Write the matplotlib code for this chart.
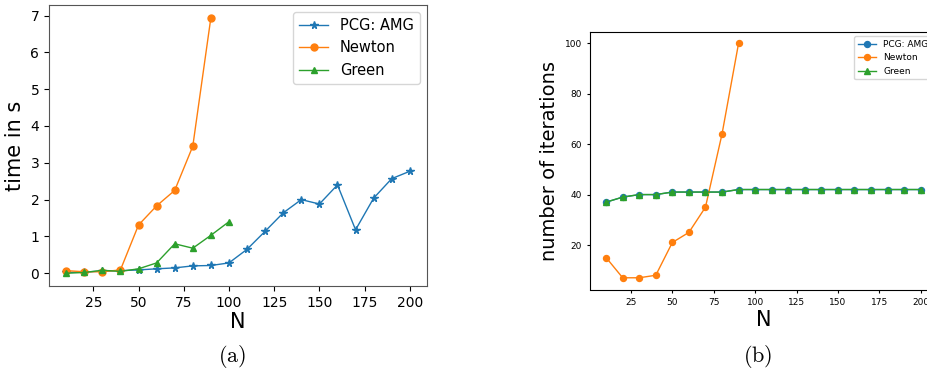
import numpy as np
import matplotlib
matplotlib.use("Agg")
import matplotlib.pyplot as plt

# =============================================================================
# Data
# =============================================================================

n_amg = [10, 20, 30, 40, 50, 60, 70, 80, 90, 100,
         110, 120, 130, 140, 150, 160, 170, 180, 190, 200]
n_newton = [10, 20, 30, 40, 50, 60, 70, 80, 90]
n_green = [10, 20, 30, 40, 50, 60, 70, 80, 90, 100]

# (a) run time in seconds
time_amg = [0.02, 0.03, 0.06, 0.07, 0.09, 0.12, 0.145, 0.20, 0.21, 0.28,
            0.65, 1.14, 1.64, 2.00, 1.88, 2.40, 1.18, 2.04, 2.57, 2.77]
time_newton = [0.07, 0.04, 0.04, 0.09, 1.31, 1.83, 2.25, 3.45, 6.94]
time_green = [0.0, 0.02, 0.08, 0.05, 0.12, 0.28, 0.80, 0.68, 1.03, 1.40]

# (b) number of iterations (Green sits on top of AMG over the full range)
n_iter = n_amg
iter_amg = [37, 39, 40, 40, 41, 41, 41, 41, 42, 42,
            42, 42, 42, 42, 42, 42, 42, 42, 42, 42]
iter_newton = [15, 7, 7, 8, 21, 25, 35, 64, 100]
iter_green = [37, 39, 40, 40, 41, 41, 41, 41, 42, 42,
              42, 42, 42, 42, 42, 42, 42, 42, 42, 42]

labels = ["PCG: AMG", "Newton", "Green"]

# =============================================================================
# Figure
# =============================================================================

W, H = 927, 372
fig = plt.figure(figsize=(W / 100, H / 100), dpi=100)
plt.rcParams["mathtext.fontset"] = "cm"


def px_axes(x0, x1, y_top, y_bot):
    return fig.add_axes([x0 / W, 1 - y_bot / H, (x1 - x0) / W, (y_bot - y_top) / H])


# (a) timing
ax1 = px_axes(49, 427, 5, 286)
ax1.plot(n_amg, time_amg, marker="*", ms=5.5, lw=1, label=labels[0])
ax1.plot(n_newton, time_newton, marker="o", ms=5, lw=1, label=labels[1])
ax1.plot(n_green, time_green, marker="^", ms=5, lw=1, label=labels[2])
ax1.set_xticks([25, 50, 75, 100, 125, 150, 175, 200])
ax1.set_yticks(range(0, 8))
ax1.tick_params(labelsize=10)
ax1.set_xlabel("N", fontsize=15, labelpad=2)
ax1.set_ylabel("time in s", fontsize=15)
ax1.legend(loc="upper right", fontsize=10.5)
for s in ax1.spines.values():
    s.set_color("#555555")

# (b) iterations -- right edge runs off the page like in the source
ax2 = px_axes(590.4, 936.4, 31.6, 289.5)
ax2.plot(n_iter, iter_amg, marker="o", ms=4.3, lw=1, label=labels[0])
ax2.plot(n_newton, iter_newton, marker="o", ms=4.3, lw=1, label=labels[1])
ax2.plot(n_iter, iter_green, marker="^", ms=4.3, lw=1, label=labels[2])
ax2.set_xticks([25, 50, 75, 100, 125, 150, 175, 200])
ax2.set_yticks([20, 40, 60, 80, 100])
ax2.tick_params(labelsize=6.5, length=2.5)
ax2.set_xlabel("N", fontsize=15, labelpad=2)
ax2.set_ylabel("number of iterations", fontsize=14)
ax2.legend(loc="upper right", fontsize=6.5)

# subfigure captions
fig.text(232 / W, 1 - 357 / H, r"$\mathrm{(a)}$", ha="center", va="center", fontsize=16)
fig.text(758 / W, 1 - 357 / H, r"$\mathrm{(b)}$", ha="center", va="center", fontsize=16)

fig.savefig("out.png", dpi=100)
